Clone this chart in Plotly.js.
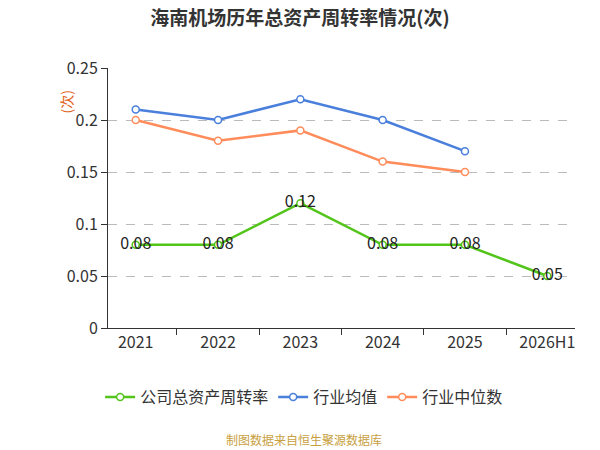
<!DOCTYPE html>
<html><head><meta charset="utf-8">
<script src="https://cdn.plot.ly/plotly-3.0.1.min.js"></script>
<style>body{margin:0}</style></head><body>
<div id="c" style="width:600px;height:450px"></div>
<script>
var years=["2021","2022","2023","2024","2025","2026H1"];
var company=[0.08,0.08,0.12,0.08,0.08,0.05];
var companyLabels=["0.08","0.08","0.12","0.08","0.08","0.05"];
var mean=[0.21,0.20,0.22,0.20,0.17];
var median=[0.20,0.18,0.19,0.16,0.15];
var f="Noto Sans CJK SC, sans-serif";
var traces=[
{x:years,y:company,name:"公司总资产周转率",mode:"lines+markers+text",text:companyLabels,textposition:"middle center",textfont:{size:16,color:"#222"},line:{color:"#52c41a",width:2.5},marker:{size:7,color:"#fff",line:{color:"#52c41a",width:1.5}}},
{x:years.slice(0,5),y:mean,name:"行业均值",mode:"lines+markers",line:{color:"#4a7fdc",width:2.5},marker:{size:7,color:"#fff",line:{color:"#4a7fdc",width:1.5}}},
{x:years.slice(0,5),y:median,name:"行业中位数",mode:"lines+markers",line:{color:"#ff8c5a",width:2.5},marker:{size:7,color:"#fff",line:{color:"#ff8c5a",width:1.5}}}
];
var layout={width:600,height:450,margin:{l:108,r:25,t:68,b:122},paper_bgcolor:"#fff",plot_bgcolor:"#fff",
font:{family:f,size:16,color:"#333"},
title:{text:"<b>海南机场历年总资产周转率情况(次)</b>",x:0.5,y:0.975,yanchor:"top",font:{size:19,color:"#333"}},
xaxis:{type:"category",categoryarray:years,showgrid:false,showline:true,linecolor:"#333",ticks:"outside",tickson:"boundaries",ticklen:6,tickcolor:"#333",tickfont:{size:16}},
yaxis:{range:[0,0.25],dtick:0.05,showgrid:true,gridcolor:"#bbb",griddash:"dash",zeroline:false,showline:true,linecolor:"#333",ticks:"outside",ticklen:6,tickcolor:"#333",tickfont:{size:16}},
legend:{orientation:"h",x:0.42,xanchor:"center",y:-0.2,yanchor:"top",font:{size:16}},
annotations:[
{text:"(次)",xref:"paper",yref:"paper",x:-0.115,y:0.92,textangle:-90,showarrow:false,font:{size:14,color:"#e0601a"}},
{text:"制图数据来自恒生聚源数据库",xref:"paper",yref:"paper",x:0.42,y:-0.39,yanchor:"top",showarrow:false,font:{size:12,color:"#c8a040"}}]
};
Plotly.newPlot("c",traces,layout,{displayModeBar:false});
</script></body></html>
